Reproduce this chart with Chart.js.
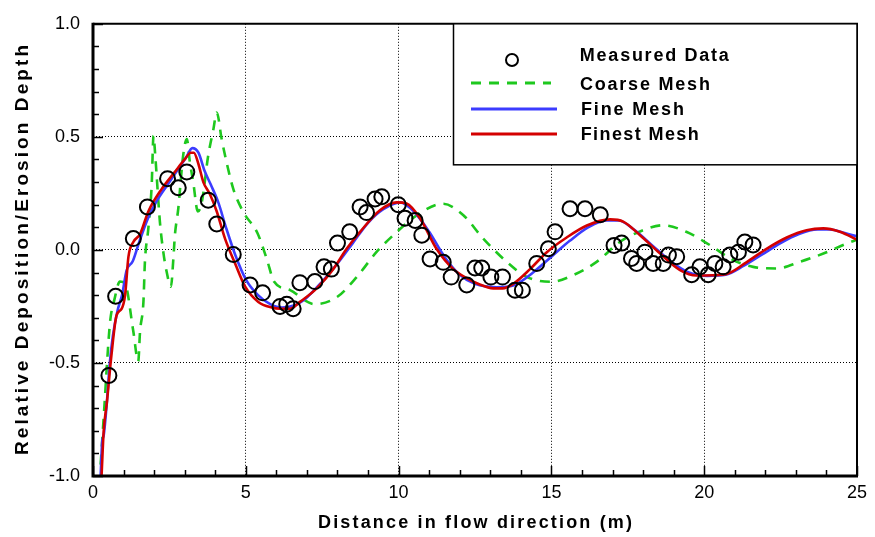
<!DOCTYPE html>
<html>
<head>
<meta charset="utf-8">
<script src="https://cdn.jsdelivr.net/npm/chart.js@4.4.1/dist/chart.umd.min.js"></script>
<style>
  html, body { margin: 0; padding: 0; background: #fff; }
</style>
</head>
<body>
<canvas id="depthChart" width="875" height="537"></canvas>
<script>
// 측정 데이터 (원)
const measuredX = [0.52, 0.74, 1.32, 1.78, 2.44, 2.79, 3.07, 3.77, 4.05, 4.59, 5.14, 5.55, 6.12, 6.34, 6.55, 6.77, 7.26, 7.56, 7.8, 8.0, 8.4, 8.74, 8.95, 9.23, 9.45, 9.99, 10.21, 10.54, 10.76, 11.03, 11.46, 11.72, 12.23, 12.5, 12.72, 13.02, 13.4, 13.81, 14.05, 14.52, 14.9, 15.12, 15.61, 16.1, 16.6, 17.05, 17.3, 17.62, 17.79, 18.06, 18.33, 18.66, 18.83, 19.1, 19.59, 19.86, 20.13, 20.35, 20.62, 20.84, 21.12, 21.33, 21.6];
const measuredY = [-0.555, -0.205, 0.05, 0.19, 0.315, 0.275, 0.345, 0.22, 0.115, -0.02, -0.155, -0.19, -0.25, -0.24, -0.26, -0.145, -0.14, -0.075, -0.085, 0.03, 0.08, 0.19, 0.165, 0.225, 0.235, 0.2, 0.14, 0.13, 0.065, -0.04, -0.055, -0.12, -0.155, -0.08, -0.08, -0.12, -0.12, -0.178, -0.178, -0.06, 0.005, 0.08, 0.182, 0.182, 0.155, 0.02, 0.03, -0.038, -0.06, -0.01, -0.06, -0.06, -0.023, -0.03, -0.11, -0.075, -0.11, -0.06, -0.075, -0.023, -0.01, 0.035, 0.022];

// Coarse Mesh (녹색 점선)
const coarseX = [0.25, 0.39, 0.45, 0.56, 0.7, 0.88, 1.05, 1.32, 1.48, 1.54, 1.65, 1.7, 1.81, 1.92, 1.98, 2.03, 2.19, 2.3, 2.41, 2.55, 2.63, 2.68, 2.79, 2.95, 3.07, 3.17, 3.28, 3.43, 3.56, 3.77, 3.94, 4.05, 4.21, 4.37, 4.59, 4.92, 5.38, 5.68, 5.93, 6.45, 7.25, 7.97, 8.63, 9.28, 9.94, 10.59, 11.46, 12.12, 12.77, 13.54, 14.19, 15.0, 15.72, 16.48, 17.24, 18.0, 18.66, 19.43, 20.19, 20.95, 21.6, 22.37, 23.13, 23.9, 24.66, 25];
const coarseY = [-0.95, -0.655, -0.52, -0.317, -0.22, -0.14, -0.15, -0.361, -0.493, -0.36, -0.23, -0.05, 0.094, 0.285, 0.505, 0.43, 0.123, -0.009, -0.097, -0.163, -0.038, 0.065, 0.182, 0.417, 0.49, 0.388, 0.3, 0.17, 0.211, 0.417, 0.534, 0.608, 0.49, 0.388, 0.27, 0.167, 0.075, -0.038, -0.141, -0.178, -0.24, -0.21, -0.12, -0.009, 0.079, 0.153, 0.204, 0.153, 0.05, -0.053, -0.119, -0.141, -0.111, -0.053, 0.035, 0.087, 0.109, 0.079, 0.021, -0.045, -0.075, -0.082, -0.053, -0.016, 0.028, 0.045];

// Fine Mesh (파란 선)
const fineX = [0.25, 0.3, 0.35, 0.45, 0.55, 0.65, 0.8, 0.95, 1.1, 1.3, 1.5, 1.8, 2.1, 2.5, 2.8, 3.05, 3.25, 3.45, 3.65, 3.85, 4.1, 4.35, 4.65, 5.0, 5.4, 5.8, 6.2, 6.6, 7.0, 7.5, 8.0, 8.5, 9.0, 9.5, 10.05, 10.5, 11.0, 11.5, 12.0, 12.5, 13.2, 13.8, 14.4, 15.0, 15.6, 16.2, 16.8, 17.2, 17.7, 18.3, 18.9, 19.5, 20.1, 20.7, 21.3, 21.9, 22.5, 23.1, 23.7, 24.1, 24.6, 25];
const fineY = [-1.0, -0.85, -0.82, -0.68, -0.5, -0.38, -0.27, -0.2, -0.09, -0.05, 0.03, 0.14, 0.22, 0.3, 0.36, 0.41, 0.45, 0.43, 0.35, 0.29, 0.21, 0.1, -0.02, -0.13, -0.2, -0.24, -0.255, -0.245, -0.21, -0.14, -0.06, 0.03, 0.12, 0.18, 0.21, 0.17, 0.08, -0.03, -0.11, -0.15, -0.165, -0.155, -0.1, -0.03, 0.04, 0.1, 0.13, 0.13, 0.09, 0.02, -0.05, -0.1, -0.115, -0.11, -0.07, -0.02, 0.03, 0.07, 0.09, 0.09, 0.075, 0.06];

// Finest Mesh (빨간 선)
const finestX = [0.28, 0.35, 0.45, 0.6, 0.77, 0.94, 1.05, 1.16, 1.32, 1.54, 1.81, 2.25, 2.68, 3.0, 3.2, 3.3, 3.45, 3.61, 3.83, 4.05, 4.32, 4.65, 4.97, 5.41, 5.85, 6.12, 6.45, 6.77, 7.32, 7.86, 8.3, 8.74, 9.39, 9.94, 10.26, 10.7, 11.24, 11.79, 12.23, 12.6, 13.1, 13.4, 13.75, 14.3, 14.85, 15.5, 16.16, 16.92, 17.35, 17.9, 18.55, 19.21, 19.75, 20.3, 20.73, 21.38, 22.04, 22.7, 23.35, 23.9, 24.44, 25];
const finestY = [-1.0, -0.8, -0.68, -0.47, -0.29, -0.26, -0.2, -0.03, 0.035, 0.07, 0.17, 0.27, 0.345, 0.4, 0.43, 0.43, 0.38, 0.3, 0.245, 0.17, 0.05, -0.06, -0.16, -0.23, -0.255, -0.26, -0.26, -0.23, -0.17, -0.085, 0.005, 0.08, 0.175, 0.21, 0.205, 0.14, 0.005, -0.085, -0.125, -0.15, -0.17, -0.17, -0.15, -0.085, -0.01, 0.055, 0.108, 0.135, 0.125, 0.065, -0.015, -0.089, -0.113, -0.112, -0.107, -0.055, 0.005, 0.055, 0.087, 0.095, 0.08, 0.045];

// 축 눈금
const xTicks = [0, 5, 10, 15, 20, 25];
const yTicks = [-1.0, -0.5, 0.0, 0.5, 1.0];

const FONT = "'Liberation Sans', Arial, sans-serif";

function toPoints(xs, ys) {
    return xs.map((x, i) => ({ x: x, y: ys[i] }));
}

// 글자 간격을 늘려서 원하는 폭에 맞춤
function spacedText(ctx, text, x, y, width) {
    ctx.letterSpacing = '0px';
    const w0 = ctx.measureText(text).width;
    const sp = (width - w0) / (text.length - 1);
    ctx.letterSpacing = sp + 'px';
    ctx.fillText(text, x + sp / 2, y);
}

// 테두리 + 안쪽 눈금 + 축 제목 + 범례
const framePlugin = {
    id: 'framePlugin',
    afterDatasetsDraw(chart) {
        const ctx = chart.ctx;
        const a = chart.chartArea;
        const sx = chart.scales.x;
        const sy = chart.scales.y;
        ctx.save();
        ctx.strokeStyle = '#000';
        ctx.lineWidth = 1.5;
        for (let k = -10; k <= 10; k++) {
            const y = Math.round(sy.getPixelForValue(k / 10)) + 0.5;
            const len = k % 5 === 0 ? 10 : 6;
            ctx.beginPath();
            ctx.moveTo(a.left, y);
            ctx.lineTo(a.left + len, y);
            ctx.stroke();
        }
        for (let k = 0; k <= 25; k++) {
            const x = Math.round(sx.getPixelForValue(k)) + 0.5;
            const len = k % 5 === 0 ? 10 : 6;
            ctx.beginPath();
            ctx.moveTo(x, a.bottom);
            ctx.lineTo(x, a.bottom - len);
            ctx.stroke();
        }
        // 위/오른쪽 얇은 테두리
        ctx.lineWidth = 2;
        ctx.beginPath();
        ctx.moveTo(a.left, a.top);
        ctx.lineTo(a.right, a.top);
        ctx.lineTo(a.right, a.bottom);
        ctx.stroke();
        // 왼쪽/아래 굵은 축
        ctx.lineWidth = 3;
        ctx.beginPath();
        ctx.moveTo(a.left, a.top - 1);
        ctx.lineTo(a.left, a.bottom);
        ctx.lineTo(a.right + 1, a.bottom);
        ctx.stroke();
        ctx.restore();
    },
    afterDraw(chart) {
        const ctx = chart.ctx;
        const a = chart.chartArea;
        const ds = chart.data.datasets;
        ctx.save();
        ctx.fillStyle = '#000';
        ctx.textBaseline = 'middle';

        // 축 제목
        ctx.font = 'bold 18px ' + FONT;
        ctx.textAlign = 'center';
        spacedText(ctx, 'Distance in flow direction (m)', (a.left + a.right) / 2, 523, 314);
        ctx.save();
        ctx.translate(23, 250);
        ctx.rotate(-Math.PI / 2);
        ctx.font = 'bold 19px ' + FONT;
        spacedText(ctx, 'Relative Deposition/Erosion Depth', 0, 0, 410);
        ctx.restore();

        // 범례 상자
        const bx = 453, by = a.top, bw = a.right - 453, bh = 141;
        ctx.fillStyle = '#fff';
        ctx.fillRect(bx, by, bw, bh);
        ctx.strokeStyle = '#000';
        ctx.lineWidth = 1.5;
        ctx.strokeRect(bx + 0.5, by, bw - 0.5, bh);

        // 범례 기호
        ctx.lineWidth = 2;
        ctx.beginPath();
        ctx.arc(512, 60, 6, 0, Math.PI * 2);
        ctx.stroke();
        const rows = [
            { d: ds[3], y: 83, x2: 551 },
            { d: ds[2], y: 109, x2: 557 },
            { d: ds[1], y: 134, x2: 557 }
        ];
        rows.forEach(r => {
            ctx.strokeStyle = r.d.borderColor;
            ctx.lineWidth = 3;
            ctx.setLineDash(r.d.borderDash || []);
            ctx.beginPath();
            ctx.moveTo(471, r.y);
            ctx.lineTo(r.x2, r.y);
            ctx.stroke();
        });
        ctx.setLineDash([]);

        // 범례 글자
        ctx.fillStyle = '#000';
        ctx.textAlign = 'left';
        ctx.font = 'bold 18px ' + FONT;
        spacedText(ctx, ds[0].label, 579, 56, 149);
        spacedText(ctx, ds[3].label, 579, 85, 130);
        spacedText(ctx, ds[2].label, 580, 110, 103);
        spacedText(ctx, ds[1].label, 580, 135, 118);
        ctx.restore();
    }
};

const depthCtx = document.getElementById('depthChart').getContext('2d');
const depthChart = new Chart(depthCtx, {
    type: 'scatter',
    data: {
        datasets: [{
            label: 'Measured Data',
            data: toPoints(measuredX, measuredY),
            showLine: false,
            pointStyle: 'circle',
            pointRadius: 7.5,
            pointBorderWidth: 2,
            borderColor: '#000',
            pointBorderColor: '#000',
            pointBackgroundColor: 'rgba(0,0,0,0)'
        }, {
            label: 'Finest Mesh',
            data: toPoints(finestX, finestY),
            showLine: true,
            borderColor: '#d40000',
            borderWidth: 2.6,
            pointRadius: 0,
            cubicInterpolationMode: 'monotone'
        }, {
            label: 'Fine Mesh',
            data: toPoints(fineX, fineY),
            showLine: true,
            borderColor: '#3c3cff',
            borderWidth: 2.6,
            pointRadius: 0,
            cubicInterpolationMode: 'monotone'
        }, {
            label: 'Coarse Mesh',
            data: toPoints(coarseX, coarseY),
            showLine: true,
            borderColor: '#1ec81e',
            borderWidth: 2.6,
            borderDash: [10, 8],
            pointRadius: 0,
            cubicInterpolationMode: 'monotone'
        }]
    },
    options: {
        responsive: false,
        animation: false,
        layout: { padding: { top: 22, right: 18, left: 0, bottom: 0 } },
        plugins: {
            legend: { display: false },
            tooltip: { enabled: false }
        },
        scales: {
            x: {
                type: 'linear',
                min: 0,
                max: 25,
                afterBuildTicks: (scale) => { scale.ticks = xTicks.map(v => ({ value: v })); },
                afterFit: (scale) => { scale.height = 61; },
                ticks: {
                    color: '#000',
                    padding: 6,
                    font: { family: FONT, size: 18 },
                    maxRotation: 0
                },
                grid: {
                    drawTicks: false,
                    lineWidth: 1,
                    color: (c) => (c.tick && (c.tick.value === 0 || c.tick.value === 25)) ? 'rgba(0,0,0,0)' : '#000'
                },
                border: { display: false, dash: [1, 2] }
            },
            y: {
                type: 'linear',
                min: -1,
                max: 1,
                afterBuildTicks: (scale) => { scale.ticks = yTicks.map(v => ({ value: v })); },
                afterFit: (scale) => { scale.width = 93; },
                ticks: {
                    color: '#000',
                    padding: 13,
                    font: { family: FONT, size: 18 },
                    callback: (v) => Number(v).toFixed(1)
                },
                grid: {
                    drawTicks: false,
                    lineWidth: 1,
                    color: (c) => (c.tick && (c.tick.value === -1 || c.tick.value === 1)) ? 'rgba(0,0,0,0)' : '#000'
                },
                border: { display: false, dash: [1, 2] }
            }
        }
    },
    plugins: [framePlugin]
});
</script>
</body>
</html>
